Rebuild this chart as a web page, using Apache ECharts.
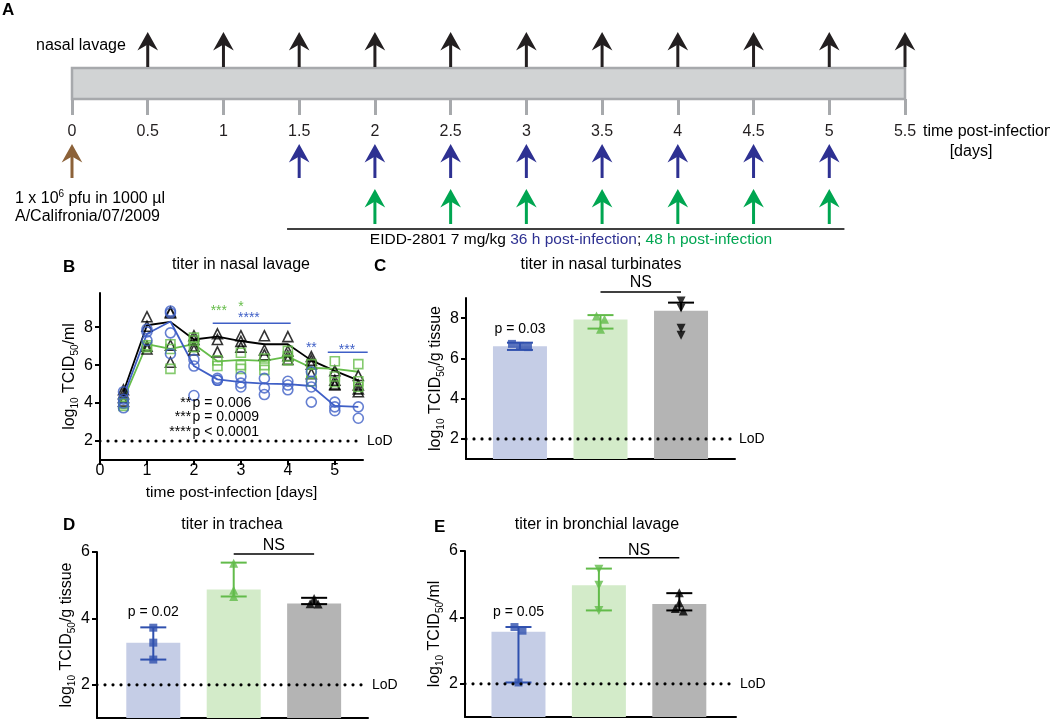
<!DOCTYPE html>
<html><head><meta charset="utf-8">
<script src="https://cdn.jsdelivr.net/npm/echarts@6/dist/echarts.min.js"></script>
<style>html,body{margin:0;padding:0;background:#fff}#c{width:1050px;height:720px}</style>
</head><body><div id="c"></div>
<script>
// ================= DATA =================
// Panel A: experimental timeline (days post-infection)
const aTicks = [0, 0.5, 1, 1.5, 2, 2.5, 3, 3.5, 4, 4.5, 5, 5.5];
const aLavageDays = [0.5, 1, 1.5, 2, 2.5, 3, 3.5, 4, 4.5, 5, 5.5];
const aInfectionDays = [0];
const aTreat36hDays = [1.5, 2, 2.5, 3, 3.5, 4, 4.5, 5];
const aTreat48hDays = [2, 2.5, 3, 3.5, 4, 4.5, 5];
const aTimelineEnd = 5.5;
const aTreatmentSpan = [1.42, 5.1];

// Panel B: titer in nasal lavage (log10 TCID50/ml)
const bTimes = [0.5, 1, 1.5, 2, 2.5, 3, 3.5, 4, 4.5, 5, 5.5];
const bXTicks = [0, 1, 2, 3, 4, 5];
const bYTicks = [2, 4, 6, 8];
const bLineVehicle = [4.6, 8.1, 8.28, 7.35, 7.5, 7.27, 7.1, 7.1, 6.25, 5.7, 5.2];
const bLine48h = [4.2, 7.1, 6.85, 7.1, 6.2, 6.28, 6.22, 6.45, 5.86, 5.8, 5.65];
const bLine36h = [4.35, 7.65, 8.3, 5.95, 5.25, 5.1, 5.02, 5.0, 4.9, 3.85, 3.8];
const bPtsVehicle = [[4.7,4.5,4.3,4.1],[8.55,8.05,7.0,6.85],[8.8,8.75,7.05,6.15],[7.55,7.35,7.0,6.8],[7.65,7.35,6.7],[7.55,7.25,6.95],[7.55,6.8,6.55],[7.5,6.75,6.5,6.3],[6.45,6.25,6.05,5.55],[5.7,5.2,5.0,4.95],[5.45,4.95,4.75,4.6]];
const bPts48h = [[4.0,3.95,3.85],[7.05,6.95],[7.1,6.85,5.8],[7.45,7.3,6.95],[6.25,5.95],[6.65,6.0,5.8],[6.35,6.0,5.75],[6.75,6.45,6.25],[6.05,5.55,5.15],[6.2,5.4,5.1],[6.05,5.15,4.85]];
const bPts36h = [[4.6,4.2,4.0,3.75],[7.9,7.75,7.3],[8.85,8.75,7.7,6.6],[6.3,5.95,4.4],[5.3,5.2,5.2],[5.4,5.05,4.85],[5.3,4.8,4.45],[5.15,4.95,4.7],[5.65,5.15,4.85,4.05],[4.05,3.8,3.6],[3.8,3.2]];
const bPValues = [['**', 'p = 0.006'], ['***', 'p = 0.0009'], ['****', 'p < 0.0001']];
const lodValue = 2;

// Panels C-E: groups = 36 h post-infection, 48 h post-infection, vehicle
const groups = ['36 h', '48 h', 'vehicle'];
const cYTicks = [2, 4, 6, 8];
const cBars = [6.6, 7.93, 8.37];
const cPoints = [[6.72, 6.62, 6.56], [8.1, 7.95, 7.45], [8.85, 8.5, 7.5, 7.15]];
const cErrLow = [6.42, 7.48, null];
const cErrHigh = [6.78, 8.15, 8.77];

const dYTicks = [2, 4, 6];
const dBars = [3.27, 4.87, 4.45];
const dPoints = [[3.72, 3.27, 2.76], [5.66, 4.85, 4.66], [4.6, 4.44, 4.43]];
const dErrLow = [2.76, 4.66, 4.43];
const dErrHigh = [3.73, 5.68, 4.62];

const eYTicks = [2, 4, 6];
const eBars = [3.57, 4.97, 4.4];
const ePoints = [[3.71, 3.6, 2.04], [5.45, 4.97, 4.21], [4.74, 4.44, 4.27, 4.19]];
const eErrLow = [2.04, 4.21, 4.21];
const eErrHigh = [3.71, 5.47, 4.73];

// ================= STYLE / LAYOUT =================
const FONT = '"Liberation Sans", Arial, Helvetica, sans-serif';
const BLUE_B = '#3f5fc6', GREEN_B = '#66bd4a';
const BLUE_M = '#2f50ae', GREEN_M = '#62bb4a';
const BAR_COLORS = ['#c5cde6', '#d3ebc9', '#b4b4b4'];
const MARK_COLORS = [BLUE_M, GREEN_M, '#000'];
const A_BLACK = '#231f20', A_BROWN = '#8c6239', A_BLUE = '#2e3192', A_GREEN = '#00a651';

const L = {
  A: {grid: {left: 72, top: 68, width: 833, height: 31}},
  B: {grid: {left: 100, top: 293, width: 263, height: 167}, x: [0, 5.6], y: [1, 9.8]},
  C: {grid: {left: 466, top: 298, width: 269, height: 161}, x: [0.33, 3.67], y: [1, 9]},
  D: {grid: {left: 97, top: 552, width: 271, height: 166}, x: [0.30, 3.67], y: [1, 6]},
  E: {grid: {left: 465, top: 551, width: 271, height: 166}, x: [0.335, 3.705], y: [1, 6]}
};

const RICH_NAME = {
  n: {fontSize: 16, lineHeight: 22, fontFamily: FONT, color: '#000'},
  s: {fontSize: 10, verticalAlign: 'bottom', fontFamily: FONT, color: '#000'}
};

// ================= HELPERS =================
function customText(gi, x, y, text, st) {
  return {type: 'custom', xAxisIndex: gi, yAxisIndex: gi, silent: true, z: 20, data: [[x, y]],
    renderItem: (p, api) => {
      const c = api.coord([api.value(0), api.value(1)]);
      return {type: 'text', x: c[0], y: c[1], style: Object.assign({text: text, fill: '#000', fontSize: 14, fontFamily: FONT, align: 'center', verticalAlign: 'middle'}, st || {})};
    }};
}
function customSeg(gi, x1, y1, x2, y2, st) {
  return {type: 'custom', xAxisIndex: gi, yAxisIndex: gi, silent: true, z: 15, data: [[x1, y1, x2, y2]],
    renderItem: (p, api) => {
      const a = api.coord([api.value(0), api.value(1)]), b = api.coord([api.value(2), api.value(3)]);
      return {type: 'line', shape: {x1: a[0], y1: a[1], x2: b[0], y2: b[1]}, style: Object.assign({stroke: '#000', lineWidth: 1.5}, st || {})};
    }};
}
function lodSeries(gi, P) {
  return [
    customSeg(gi, P.x[0], lodValue, P.x[1], lodValue, {lineWidth: 3.2, lineDash: [0, 8], lineCap: 'round', stroke: '#000'}),
    customText(gi, P.x[1] + 4 / (P.grid.width / (P.x[1] - P.x[0])), lodValue, 'LoD', {align: 'left', fontSize: 14})
  ];
}
function arrowSeries(days, color, tip, base) {
  return {type: 'custom', xAxisIndex: 0, yAxisIndex: 0, silent: true, z: 10,
    data: days.map(d => [d, 0]),
    renderItem: (p, api) => {
      const x = api.coord([api.value(0), 0])[0];
      return {type: 'group', children: [
        {type: 'line', shape: {x1: x, y1: tip + 12, x2: x, y2: base}, style: {stroke: color, lineWidth: 3}},
        {type: 'polygon', shape: {points: [[x, tip], [x + 10.3, tip + 18.5], [x, tip + 12.5], [x - 10.3, tip + 18.5]]}, style: {fill: color}}
      ]};
    }};
}
function jitter(vals, center, P) {
  const pxY = P.grid.height / (P.y[1] - P.y[0]);
  const pxX = P.grid.width / (P.x[1] - P.x[0]);
  const thr = 4.2 / pxY, step = 8 / pxX;
  const idx = vals.map((v, i) => i).sort((a, b) => vals[b] - vals[a]);
  const clusters = []; let cur = [];
  idx.forEach(i => {
    if (cur.length && vals[cur[cur.length - 1]] - vals[i] > thr) { clusters.push(cur); cur = []; }
    cur.push(i);
  });
  if (cur.length) clusters.push(cur);
  const out = [];
  clusters.forEach(cl => cl.forEach((i, k) => out.push([center + (k - (cl.length - 1) / 2) * step, vals[i]])));
  return out;
}
function barPanel(gi, P, bars, points, lo, hi, syms, rots) {
  const s = [];
  s.push({type: 'bar', xAxisIndex: gi, yAxisIndex: gi, barWidth: 54, silent: true, z: 2,
    data: bars.map((v, i) => ({value: [i + 1, v], itemStyle: {color: BAR_COLORS[i]}}))});
  s.push(...lodSeries(gi, P));
  s.push({type: 'custom', xAxisIndex: gi, yAxisIndex: gi, silent: true, z: 5,
    data: bars.map((b, i) => [i + 1, lo[i] == null ? b : lo[i], hi[i], lo[i] == null ? 0 : 1, i]),
    renderItem: (p, api) => {
      const x = api.value(0);
      const a = api.coord([x, api.value(1)]), b = api.coord([x, api.value(2)]);
      const col = MARK_COLORS[api.value(4)];
      const ch = [
        {type: 'line', shape: {x1: a[0], y1: a[1], x2: b[0], y2: b[1]}, style: {stroke: col, lineWidth: 2}},
        {type: 'line', shape: {x1: b[0] - 13, y1: b[1], x2: b[0] + 13, y2: b[1]}, style: {stroke: col, lineWidth: 2}}
      ];
      if (api.value(3)) ch.push({type: 'line', shape: {x1: a[0] - 13, y1: a[1], x2: a[0] + 13, y2: a[1]}, style: {stroke: col, lineWidth: 2}});
      return {type: 'group', children: ch};
    }});
  points.forEach((vals, i) => {
    s.push({type: 'scatter', xAxisIndex: gi, yAxisIndex: gi, silent: true, z: 6,
      symbol: syms[i], symbolRotate: rots[i], symbolSize: syms[i] === 'rect' ? 8 : 9,
      itemStyle: {color: MARK_COLORS[i]}, data: jitter(vals, i + 1, P)});
  });
  return s;
}
function yVal(gi, P, ticks, name, gap) {
  return {gridIndex: gi, type: 'value', min: P.y[0], max: P.y[1], splitLine: {show: false},
    axisLine: {show: true, lineStyle: {color: '#000', width: 2}},
    axisTick: {show: true, length: 5, lineStyle: {color: '#000', width: 2}, customValues: ticks},
    axisLabel: {customValues: ticks, fontSize: 16, color: '#000', fontFamily: FONT, margin: 7},
    name: name, nameLocation: 'middle', nameGap: gap, nameTextStyle: {rich: RICH_NAME}};
}
function xBar(gi, P) {
  return {gridIndex: gi, type: 'value', min: P.x[0], max: P.x[1], splitLine: {show: false},
    axisLine: {show: true, onZero: false, lineStyle: {color: '#000', width: 2}},
    axisTick: {show: false}, axisLabel: {show: false}};
}

// ================= SERIES =================
const series = [];
// Panel A
series.push({type: 'custom', xAxisIndex: 0, yAxisIndex: 0, silent: true, z: 1, data: [[0, aTimelineEnd]],
  renderItem: (p, api) => {
    const a = api.coord([api.value(0), 1]), b = api.coord([api.value(1), 0]);
    return {type: 'rect', shape: {x: a[0], y: a[1], width: b[0] - a[0], height: b[1] - a[1]}, style: {fill: '#d1d3d4', stroke: '#a7a9ac', lineWidth: 2.5}};
  }});
series.push(arrowSeries(aLavageDays, A_BLACK, 32, 67));
series.push(arrowSeries(aInfectionDays, A_BROWN, 144, 178));
series.push(arrowSeries(aTreat36hDays, A_BLUE, 144, 178));
series.push(arrowSeries(aTreat48hDays, A_GREEN, 189, 224));
series.push({type: 'custom', xAxisIndex: 0, yAxisIndex: 0, silent: true, data: [aTreatmentSpan],
  renderItem: (p, api) => {
    const x1 = api.coord([api.value(0), 0])[0], x2 = api.coord([api.value(1), 0])[0];
    return {type: 'line', shape: {x1: x1, y1: 229, x2: x2, y2: 229}, style: {stroke: '#000', lineWidth: 1.5}};
  }});

// Panel B
series.push(...lodSeries(1, L.B));
[[bLineVehicle, '#000'], [bLine48h, GREEN_B], [bLine36h, BLUE_B]].forEach(([vals, col]) => {
  series.push({type: 'line', xAxisIndex: 1, yAxisIndex: 1, symbol: 'none', silent: true, z: 3,
    lineStyle: {color: col, width: 1.8}, data: bTimes.map((t, i) => [t, vals[i]])});
});
[[bPtsVehicle, '#000', 'triangle', 10], [bPts48h, GREEN_B, 'rect', 9], [bPts36h, BLUE_B, 'circle', 10]].forEach(([pts, col, sym, size]) => {
  const data = [];
  pts.forEach((arr, i) => arr.forEach(v => data.push([bTimes[i], v])));
  series.push({type: 'scatter', xAxisIndex: 1, yAxisIndex: 1, silent: true, z: 4, symbol: sym, symbolSize: size,
    itemStyle: {color: 'rgba(0,0,0,0)', borderColor: col, borderWidth: 1.6}, data: data});
});
series.push(customText(1, 2.53, 8.84, '***', {fill: GREEN_B}));
series.push(customText(1, 3.0, 9.05, '*', {fill: GREEN_B}));
series.push(customText(1, 3.17, 8.47, '****', {fill: BLUE_B}));
series.push(customSeg(1, 2.4, 8.2, 4.06, 8.2, {stroke: BLUE_B, lineWidth: 1.5}));
series.push(customText(1, 4.5, 6.9, '**', {fill: BLUE_B}));
series.push(customText(1, 5.26, 6.79, '***', {fill: BLUE_B}));
series.push(customSeg(1, 4.85, 6.68, 5.7, 6.68, {stroke: BLUE_B, lineWidth: 1.5}));
bPValues.forEach((row, i) => {
  const y = [4.0, 3.26, 2.47][i];
  series.push(customText(1, 1.94, y, row[0], {align: 'right'}));
  series.push(customText(1, 1.97, y, row[1], {align: 'left'}));
});

// Panel C
series.push(...barPanel(2, L.C, cBars, cPoints, cErrLow, cErrHigh, ['rect', 'triangle', 'triangle'], [0, 0, 180]));
series.push(customText(2, 1, 7.45, 'p = 0.03'));
series.push(customSeg(2, 2, 9.3, 3, 9.3, {lineWidth: 1.5}));
series.push(customText(2, 2.5, 9.75, 'NS', {fontSize: 16}));
// Panel D
series.push(...barPanel(3, L.D, dBars, dPoints, dErrLow, dErrHigh, ['rect', 'triangle', 'triangle'], [0, 0, 0]));
series.push(customText(3, 1, 4.18, 'p = 0.02'));
series.push(customSeg(3, 2, 5.94, 3, 5.94, {lineWidth: 1.5}));
series.push(customText(3, 2.5, 6.18, 'NS', {fontSize: 16}));
// Panel E
series.push(...barPanel(4, L.E, eBars, ePoints, eErrLow, eErrHigh, ['rect', 'triangle', 'triangle'], [0, 180, 0]));
series.push(customText(4, 1, 4.15, 'p = 0.05'));
series.push(customSeg(4, 2, 5.8, 3, 5.8, {lineWidth: 1.5}));
series.push(customText(4, 2.5, 6.02, 'NS', {fontSize: 16}));

// ================= GRAPHIC TEXT =================
function gText(x, y, text, st) {
  return {type: 'text', x: x, y: y, silent: true, style: Object.assign({text: text, fill: '#000', font: '16px ' + FONT, align: 'left', verticalAlign: 'middle'}, st || {})};
}
const bold = '700 17px ' + FONT;
const graphic = [
  gText(2, 10, 'A', {font: bold}),
  gText(36, 46, 'nasal lavage'),
  gText(923, 132, 'time post-infection'),
  gText(971, 152, '[days]', {align: 'center'}),
  {type: 'text', x: 15, y: 199, silent: true, style: {text: '1 x 10{sup|6} pfu in 1000 µl', fill: '#000', font: '16px ' + FONT, lineHeight: 20, verticalAlign: 'middle',
    rich: {sup: {fontSize: 10, verticalAlign: 'top', fontFamily: FONT, fill: '#000'}}}},
  gText(15, 217, 'A/Califronia/07/2009'),
  {type: 'text', x: 571, y: 240, silent: true, style: {
    text: '{k|EIDD-2801 7 mg/kg }{b|36 h post-infection}{k|; }{g|48 h post-infection}',
    align: 'center', verticalAlign: 'middle',
    rich: {k: {fontSize: 15.5, fontFamily: FONT, fill: '#000'}, b: {fontSize: 15.5, fontFamily: FONT, fill: A_BLUE}, g: {fontSize: 15.5, fontFamily: FONT, fill: A_GREEN}}}},
  gText(63, 267, 'B', {font: bold}),
  gText(241, 265, 'titer in nasal lavage', {align: 'center'}),
  gText(374, 266, 'C', {font: bold}),
  gText(601, 265, 'titer in nasal turbinates', {align: 'center'}),
  gText(63, 525, 'D', {font: bold}),
  gText(232, 525, 'titer in trachea', {align: 'center'}),
  gText(434, 527, 'E', {font: bold}),
  gText(597, 525, 'titer in bronchial lavage', {align: 'center'})
];

// ================= OPTION =================
const option = {
  animation: false,
  backgroundColor: '#fff',
  textStyle: {fontFamily: FONT},
  grid: [L.A.grid, L.B.grid, L.C.grid, L.D.grid, L.E.grid].map(g => Object.assign({containLabel: false}, g)),
  xAxis: [
    {gridIndex: 0, type: 'value', min: 0, max: aTimelineEnd, splitLine: {show: false},
      axisLine: {show: false}, axisTick: {show: true, length: 16, lineStyle: {color: '#a7a9ac', width: 3}, customValues: aTicks},
      axisLabel: {customValues: aTicks, fontSize: 16, color: A_BLACK, fontFamily: FONT, margin: 25}},
    {gridIndex: 1, type: 'value', min: L.B.x[0], max: L.B.x[1], splitLine: {show: false},
      axisLine: {show: true, onZero: false, lineStyle: {color: '#000', width: 2}},
      axisTick: {show: true, length: 5, lineStyle: {color: '#000', width: 2}, customValues: bXTicks},
      axisLabel: {customValues: bXTicks, fontSize: 16, color: '#000', fontFamily: FONT, margin: 3},
      name: 'time post-infection [days]', nameLocation: 'middle', nameGap: 25,
      nameTextStyle: {fontSize: 15.5, color: '#000', fontFamily: FONT}},
    xBar(2, L.C), xBar(3, L.D), xBar(4, L.E)
  ],
  yAxis: [
    {gridIndex: 0, type: 'value', min: 0, max: 1, show: false},
    yVal(1, L.B, bYTicks, '{n|log}{s|10}{n| TCID}{s|50}{n|/ml}', 17),
    yVal(2, L.C, cYTicks, '{n|log}{s|10}{n| TCID}{s|50}{n|/g tissue}', 18),
    yVal(3, L.D, dYTicks, '{n|log}{s|10}{n| TCID}{s|50}{n|/g tissue}', 13.5),
    yVal(4, L.E, eYTicks, '{n|log}{s|10}{n| TCID}{s|50}{n|/ml}', 15)
  ],
  graphic: graphic,
  series: series
};
const chart = echarts.init(document.getElementById('c'));
chart.setOption(option);
</script>
</body></html>
